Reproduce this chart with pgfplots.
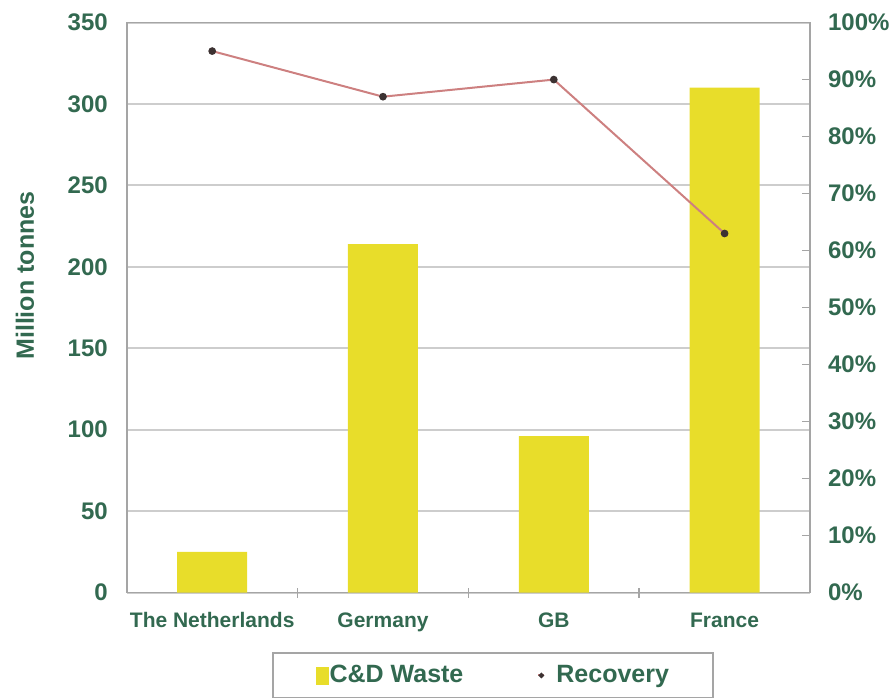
\documentclass[border=0pt]{standalone}
\usepackage{fontspec}
\setmainfont{Liberation Sans}
\usepackage{pgfplots}
\pgfplotsset{compat=1.18}

\definecolor{barYellow}{RGB}{232,221,42}
\definecolor{lineRed}{RGB}{205,128,128}
\definecolor{markDark}{RGB}{60,50,50}
\definecolor{textGreen}{RGB}{50,105,80}
\definecolor{gridGray}{RGB}{205,205,205}
\definecolor{axisGray}{RGB}{165,165,165}

\begin{document}
\begin{tikzpicture}
\useasboundingbox (0pt,0pt) rectangle (448pt,350pt);

% Left axis: C&D waste in million tonnes
\begin{axis}[
  at={(63.4pt,53.7pt)}, anchor=south west,
  scale only axis, width=341.6pt, height=285pt,
  xmin=-0.5, xmax=3.5, ymin=0, ymax=350,
  xtick={0,1,2,3},
  xticklabels={The Netherlands,Germany,GB,France},
  minor xtick={0.5,1.5,2.5},
  xtick pos=bottom,
  ytick={0,50,...,350},
  major tick length=0pt, minor tick length=5pt,
  tick align=center,
  tick style={axisGray, line width=0.8pt},
  ymajorgrids,
  grid style={gridGray, line width=1pt},
  axis line style={axisGray, line width=0.9pt},
  /pgf/number format/assume math mode=true,
  ticklabel style={text=textGreen, font=\bfseries},
  xticklabel style={font=\bfseries\fontsize{10.5}{12}\selectfont, yshift=-6.5pt},
  yticklabel style={font=\bfseries\fontsize{12}{14}\selectfont, xshift=-6pt},
  ylabel={Million tonnes},
  ylabel style={at={(axis description cs:-0.149,0.556)}, anchor=center,
    text=textGreen, font=\bfseries\fontsize{12.5}{14}\selectfont},
]
\addplot[ybar, bar width=35pt, fill=barYellow, draw=none]
  coordinates {(0,25) (1,214) (2,96) (3,310)};
\end{axis}

% Right axis: recovery rate in percent
\begin{axis}[
  at={(63.4pt,53.7pt)}, anchor=south west,
  scale only axis, width=341.6pt, height=285pt,
  xmin=-0.5, xmax=3.5, ymin=0, ymax=100,
  axis x line=none, axis y line*=right,
  ytick={0,10,...,100},
  yticklabel={\pgfmathprintnumber{\tick}\%},
  tick align=inside, major tick length=4pt,
  tick style={axisGray, line width=0.8pt},
  axis line style={axisGray, line width=0.9pt},
  /pgf/number format/assume math mode=true,
  yticklabel style={text=textGreen, font=\bfseries\fontsize{12}{14}\selectfont, xshift=5.5pt},
  legend columns=2,
  legend cell align=left,
  legend style={at={(0.536,-0.105)}, anchor=north,
    draw=axisGray, line width=0.8pt,
    font=\bfseries\fontsize{12.5}{14}\selectfont, text=textGreen,
    inner xsep=21.5pt, inner ysep=4pt,
    nodes={inner xsep=0.5pt},
    /tikz/every even column/.append style={column sep=36.5pt}},
]
\addlegendimage{legend image code/.code={
  \fill[barYellow] (0pt,-4.5pt) rectangle (5.5pt,4pt);}}
\addlegendentry{C\&D Waste}
\addplot[lineRed, line width=1pt, mark=*, mark size=1.4pt,
  mark options={fill=markDark, draw=markDark},
  legend image code/.code={
    \draw[lineRed, line width=1pt] (0pt,0pt) -- (3pt,0pt);
    \fill[markDark] (1.5pt,0pt) circle (0.8pt);
    \path (8pt,0pt);}]
  coordinates {(0,95) (1,87) (2,90) (3,63)};
\addlegendentry{Recovery}
\end{axis}
\end{tikzpicture}
\end{document}
